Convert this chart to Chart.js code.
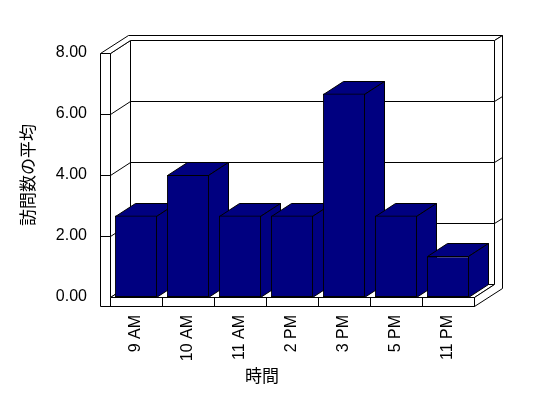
<!DOCTYPE html>
<html>
<head>
<meta charset="utf-8">
<script src="https://cdn.jsdelivr.net/npm/chart.js@4/dist/chart.umd.min.js"></script>
<style>
  body { margin: 0; background: #fff; }
  #chart1 { display: block; }
</style>
</head>
<body>
<canvas id="chart1" width="548" height="398"></canvas>
<script>
// Data
// ========================================================================
var timeLabels = ["9 AM", "10 AM", "11 AM", "2 PM", "3 PM", "5 PM", "11 PM"];
var visitAverages = [2.67, 4, 2.67, 2.67, 6.67, 2.67, 1.33];
var valueTicks = [0, 2, 4, 6, 8];

// 3D look (pixels)
var depthX = 20, depthY = -13;      // front plane -> back wall face
var outerX = 28, outerY = -18;      // front plane -> back of back wall
var sideWall = 10;                  // left wall thickness
var floorH = 9;                     // floor thickness
var barBlue = "#000080";

function poly(ctx, pts, fill) {
  ctx.beginPath();
  ctx.moveTo(pts[0][0], pts[0][1]);
  for (var i = 1; i < pts.length; i++) ctx.lineTo(pts[i][0], pts[i][1]);
  ctx.closePath();
  if (fill) {
    ctx.fillStyle = fill;
    ctx.fill();
  }
  ctx.stroke();
}

function line(ctx, x1, y1, x2, y2) {
  ctx.beginPath();
  ctx.moveTo(x1, y1);
  ctx.lineTo(x2, y2);
  ctx.stroke();
}

// walls, floor, grid and the tops/sides of the bars
var frame3d = {
  id: 'frame3d',
  beforeDatasetsDraw: function (chart) {
    var ctx = chart.ctx;
    var xs = chart.scales.x, ys = chart.scales.y;
    var L = Math.round(chart.chartArea.left) + 0.5;
    var R = Math.round(chart.chartArea.right) + 0.5;
    var T = Math.round(ys.getPixelForValue(valueTicks[valueTicks.length - 1])) + 0.5;
    var B = Math.round(ys.getPixelForValue(0)) + 0.5;
    var W = L - sideWall;

    ctx.save();
    ctx.strokeStyle = "#000";
    ctx.lineWidth = 1;

    // back wall face + left wall inner face + floor top
    poly(ctx, [[L + depthX, T + depthY], [R + depthX, T + depthY], [R + depthX, B + depthY], [L + depthX, B + depthY]], "#fff");
    poly(ctx, [[L, T], [L + depthX, T + depthY], [L + depthX, B + depthY], [L, B]], "#fff");
    poly(ctx, [[L, B], [R, B], [R + depthX, B + depthY], [L + depthX, B + depthY]], "#fff");

    // top edge of the walls
    poly(ctx, [[W, T], [L, T], [L + depthX, T + depthY], [R + depthX, T + depthY],
      [R + outerX, T + outerY], [W + outerX, T + outerY]], "#fff");

    // right edge of back wall and floor
    poly(ctx, [[R + depthX, T + depthY], [R + outerX, T + outerY], [R + outerX, B + floorH + outerY],
      [R, B + floorH], [R, B], [R + depthX, B + depthY]], "#fff");

    // front of left wall and floor
    poly(ctx, [[W, T], [L, T], [L, B], [R, B], [R, B + floorH], [W, B + floorH]], "#fff");

    // grid lines wrap round the walls
    for (var i = 1; i < valueTicks.length - 1; i++) {
      var gy = Math.round(ys.getPixelForValue(valueTicks[i])) + 0.5;
      line(ctx, W, gy, L, gy);
      line(ctx, L, gy, L + depthX, gy + depthY);
      line(ctx, L + depthX, gy + depthY, R + depthX, gy + depthY);
      line(ctx, R + depthX, gy + depthY, R + outerX, gy + outerY);
    }

    // category ticks on the floor front
    var step = (xs.right - xs.left) / timeLabels.length;
    for (var c = 0; c <= timeLabels.length; c++) {
      var tx = Math.round(xs.left + c * step) + 0.5;
      line(ctx, tx, B, tx, B + floorH);
    }

    // bar tops and sides, left to right
    var bars = chart.getDatasetMeta(0).data;
    bars.forEach(function (bar) {
      var p = bar.getProps(['x', 'y', 'base', 'width'], true);
      var xl = Math.round(p.x - p.width / 2) + 0.5;
      var xr = Math.round(p.x + p.width / 2) - 0.5;
      var yt = Math.round(p.y) + 0.5;
      var yb = Math.round(p.base) + 0.5;
      poly(ctx, [[xl, yt], [xr, yt], [xr + depthX, yt + depthY], [xl + depthX, yt + depthY]], barBlue);
      poly(ctx, [[xr, yt], [xr + depthX, yt + depthY], [xr + depthX, yb + depthY], [xr, yb]], barBlue);
    });

    ctx.restore();
  },
  afterDraw: function (chart) {
    var ctx = chart.ctx, a = chart.chartArea;
    ctx.save();
    ctx.fillStyle = "#000";
    ctx.font = '17px "Noto Sans CJK JP"';
    ctx.textAlign = "center";
    ctx.textBaseline = "middle";
    ctx.fillText("時間", (a.left + a.right) / 2 - 30, 376);
    ctx.restore();
  }
};

// Chart
// ========================================================================
var chart1El = document.getElementById('chart1');
new Chart(chart1El, {
  type: 'bar',
  data: {
    labels: timeLabels,
    datasets: [{
      label: "訪問数の平均",
      backgroundColor: barBlue,
      borderColor: "#000",
      borderWidth: 1,
      borderSkipped: false,
      barPercentage: 1,
      categoryPercentage: 0.81,
      data: visitAverages
    }]
  },
  plugins: [frame3d],
  options: {
    responsive: false,
    animation: false,
    layout: {
      padding: { left: 0, right: 74, top: 53, bottom: 0 }
    },
    plugins: {
      legend: { display: false },
      tooltip: { enabled: false }
    },
    scales: {
      x: {
        grid: { display: false, drawTicks: false },
        border: { display: false },
        ticks: {
          color: "#000",
          font: { family: "Liberation Sans", size: 16 },
          minRotation: 90,
          maxRotation: 90,
          padding: 18
        },
        afterFit: function (scale) { scale.height = 101; }
      },
      y: {
        min: 0,
        max: 8,
        grid: { display: false, drawTicks: false },
        border: { display: false },
        ticks: {
          stepSize: 2,
          color: "#000",
          padding: 23,
          font: { family: "Liberation Sans", size: 16 },
          callback: function (v) { return v.toFixed(2); }
        },
        title: {
          display: true,
          text: "訪問数の平均",
          color: "#000",
          font: { family: "Noto Sans CJK JP", size: 17 },
          padding: { top: 17, bottom: 0 }
        },
        afterFit: function (scale) { scale.width = 110; }
      }
    }
  }
});
</script>
</body>
</html>
